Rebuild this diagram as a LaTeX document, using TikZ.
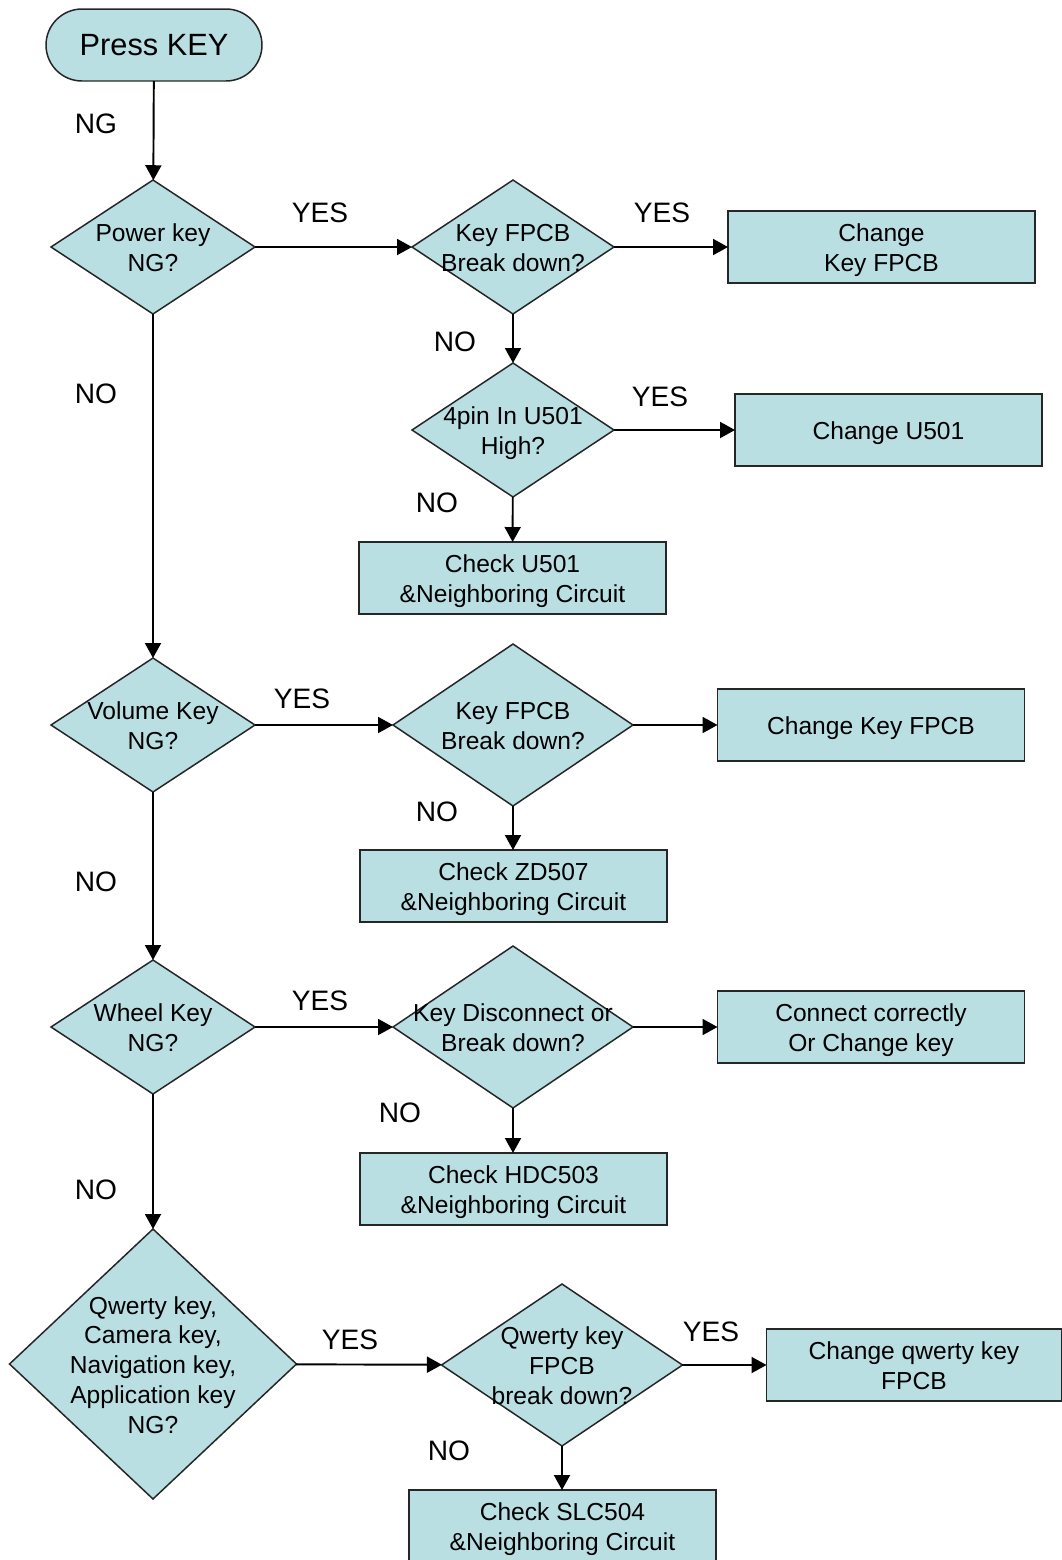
\documentclass[tikz,border=0pt]{standalone}
\usepackage{fontspec}
\setmainfont{Liberation Sans}
\usetikzlibrary{arrows.meta,shapes.geometric}
\definecolor{keyfill}{RGB}{185,223,227}
% centred text in a zero-size box, so the shape keeps its given size
\newcommand{\dtxt}[1]{\makebox[0pt]{\smash{\raisebox{-5.8pt}{\begin{tabular}{@{}c@{}}#1\end{tabular}}}}}
\tikzset{
  base/.style={draw=black!85, fill=keyfill, line width=0.85pt, inner sep=0pt, outer sep=0pt,
               font=\fontsize{14}{17}\selectfont},
  startbox/.style={base, rectangle, rounded corners=0.72cm, minimum width=4.32cm,
                   minimum height=1.44cm, font=\fontsize{17.5}{20}\selectfont},
  decision/.style={base, diamond},
  actbox/.style={base, rectangle, minimum width=6.14cm, minimum height=1.44cm},
  tag/.style={font=\fontsize{16}{18}\selectfont, inner sep=0pt},
  flow/.style={line width=1.1pt, -{Triangle[length=0.3cm,width=0.32cm]}}
}
\begin{document}
\begin{tikzpicture}[x=0.02cm, y=-0.02cm]
  \useasboundingbox (0,0) rectangle (1062,1560);

  \node[startbox] (press) at (154,45) {Press KEY};

  % left column
  \node[decision, minimum width=4.08cm, minimum height=2.68cm] (power) at (153,247) {\dtxt{Power key\\NG?}};
  \node[decision, minimum width=4.08cm, minimum height=2.68cm] (volume) at (153,725) {\dtxt{Volume Key\\NG?}};
  \node[decision, minimum width=4.08cm, minimum height=2.68cm] (wheel) at (153,1027) {\dtxt{Wheel Key\\NG?}};
  \node[decision, minimum width=5.74cm, minimum height=5.4cm] (qwerty) at (153,1364)
    {\dtxt{Qwerty key,\\Camera key,\\Navigation key,\\Application key\\NG?}};

  % power key branch
  \node[decision, minimum width=4.04cm, minimum height=2.68cm] (pfpcb) at (513,247) {\dtxt{Key FPCB\\Break down?}};
  \node[decision, minimum width=4.04cm, minimum height=2.68cm] (pin) at (513,430) {\dtxt{4pin In U501\\High?}};
  \node[actbox] (chpfpcb) at (881.5,247) {\dtxt{Change\\Key FPCB}};
  \node[actbox] (chu) at (888.5,430) {\dtxt{Change U501}};
  \node[actbox] (cku) at (512.5,578) {\dtxt{Check U501\\\&Neighboring Circuit}};

  % volume key branch
  \node[decision, minimum width=4.8cm, minimum height=3.24cm] (vfpcb) at (513,725) {\dtxt{Key FPCB\\Break down?}};
  \node[actbox] (chvfpcb) at (871,725) {\dtxt{Change Key FPCB}};
  \node[actbox] (ckzd) at (513.5,886) {\dtxt{Check ZD507\\\&Neighboring Circuit}};

  % wheel key branch
  \node[decision, minimum width=4.8cm, minimum height=3.24cm] (disc) at (513,1027) {\dtxt{Key Disconnect or\\Break down?}};
  \node[actbox] (conn) at (871,1027) {\dtxt{Connect correctly\\Or Change key}};
  \node[actbox] (ckhdc) at (513.5,1189) {\dtxt{Check HDC503\\\&Neighboring Circuit}};

  % qwerty branch
  \node[decision, minimum width=4.82cm, minimum height=3.24cm] (qfpcb) at (562,1365) {\dtxt{Qwerty key\\FPCB\\break down?}};
  \node[actbox, minimum width=5.9cm] (chq) at (914,1365) {\dtxt{Change qwerty key\\FPCB}};
  \node[actbox] (ckslc) at (562.5,1526) {\dtxt{Check SLC504\\\&Neighboring Circuit}};

  \draw[flow] (press) -- (power);
  \draw[flow] (power) -- (pfpcb);
  \draw[flow] (pfpcb) -- (chpfpcb);
  \draw[flow] (pfpcb) -- (pin);
  \draw[flow] (pin) -- (chu);
  \draw[flow] (pin) -- (cku);
  \draw[flow] (power) -- (volume);
  \draw[flow] (volume) -- (vfpcb);
  \draw[flow] (vfpcb) -- (chvfpcb);
  \draw[flow] (vfpcb.south) -- (ckzd.north -| vfpcb.south);
  \draw[flow] (volume) -- (wheel);
  \draw[flow] (wheel) -- (disc);
  \draw[flow] (disc) -- (conn);
  \draw[flow] (disc.south) -- (ckhdc.north -| disc.south);
  \draw[flow] (wheel) -- (qwerty);
  \draw[flow] (qwerty) -- (qfpcb);
  \draw[flow] (qfpcb) -- (chq);
  \draw[flow] (qfpcb.south) -- (ckslc.north -| qfpcb.south);

  \foreach \n/\x/\y/\t in {ng/96/124/NG, ya/320/213/YES, yb/662/213/YES, na/455/342/NO,
                           yc/660/397/YES, nb/437/503/NO, nc/96/394/NO, yd/302/699/YES,
                           nd/437/812/NO, ne/96/882/NO, ye/320/1001/YES, nf/400/1113/NO,
                           ng2/96/1190/NO, yf/350/1340/YES, yg/711/1332/YES, nh/449/1451/NO}
    \node[tag] (\n) at (\x,\y) {\t};
\end{tikzpicture}
\end{document}
